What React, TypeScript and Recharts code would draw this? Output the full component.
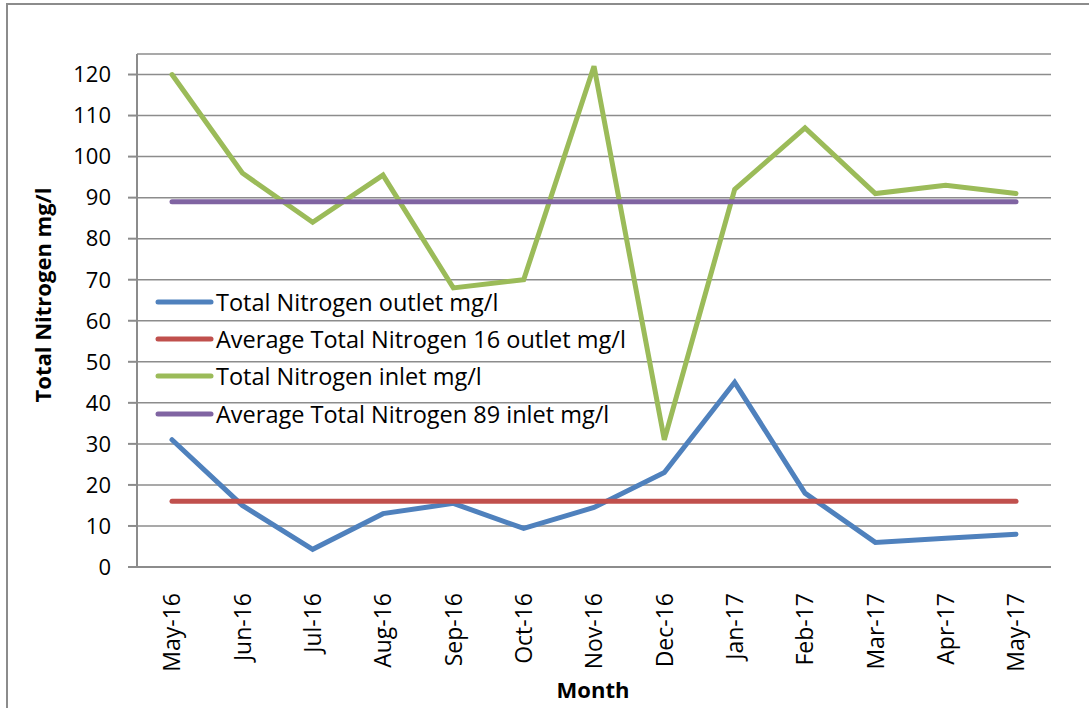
import React from "react";
import {
  LineChart,
  Line,
  XAxis,
  YAxis,
  CartesianGrid,
  Legend,
  Label,
} from "recharts";

// months along the category axis
const months = [
  "May-16", "Jun-16", "Jul-16", "Aug-16", "Sep-16", "Oct-16", "Nov-16",
  "Dec-16", "Jan-17", "Feb-17", "Mar-17", "Apr-17", "May-17",
];

// values
const outletValues = [31, 15, 4.3, 13, 15.5, 9.4, 14.5, 23, 45, 18, 6, 7, 8];
const inletValues = [120, 96, 84, 95.5, 68, 70, 122, 31, 92, 107, 91, 93, 91];
const avgOutlet = 16;
const avgInlet = 89;

const yTicks = [0, 10, 20, 30, 40, 50, 60, 70, 80, 90, 100, 110, 120];

const seriesNames = [
  "Total Nitrogen outlet mg/l",
  "Average Total Nitrogen 16 outlet mg/l",
  "Total Nitrogen inlet mg/l",
  "Average Total Nitrogen 89 inlet mg/l",
];

const chartData = months.map((month, i) => ({
  month,
  outlet: outletValues[i],
  avgOutlet,
  inlet: inletValues[i],
  avgInlet,
}));

const FONT = "'Open Sans', sans-serif";
const GRID = "#8c8c8c";

const MonthTick = (props: any) => {
  const { x, y, payload } = props;
  return (
    <text
      x={0}
      y={0}
      transform={`translate(${x},${y + 18}) rotate(-90)`}
      textAnchor="end"
      dy="0.36em"
      fontFamily={FONT}
      fontSize={23}
      fill="#000"
    >
      {payload.value}
    </text>
  );
};

const LegendBox = (props: any) => {
  const items = [...(props.payload || [])].sort(
    (a: any, b: any) => seriesNames.indexOf(a.value) - seriesNames.indexOf(b.value)
  );
  return (
    <div>
      {items.map((entry: any) => (
        <div
          key={entry.value}
          style={{ display: "flex", alignItems: "center", height: 37.3 }}
        >
          <svg width={61} height={10}>
            <line
              x1={3}
              y1={5}
              x2={56}
              y2={5}
              stroke={entry.color}
              strokeWidth={5}
              strokeLinecap="round"
            />
          </svg>
          <span
            style={{
              fontFamily: FONT,
              fontSize: 23.5,
              color: "#000",
              whiteSpace: "nowrap",
            }}
          >
            {entry.value}
          </span>
        </div>
      ))}
    </div>
  );
};

const App: React.FC = () => {
  return (
    <div
      style={{
        position: "absolute",
        left: 0,
        top: 0,
        width: 1089,
        height: 708,
        overflow: "hidden",
        background: "#fff",
      }}
    >
      <div
        style={{
          position: "absolute",
          left: 6,
          top: 3,
          width: 1200,
          height: 800,
          border: "2px solid #8c8c8c",
        }}
      />
      <div style={{ position: "absolute", left: 0, top: 0 }}>
        <LineChart
          width={1089}
          height={708}
          data={chartData}
          margin={{ top: 54, right: 38, left: 77, bottom: 41 }}
        >
          <CartesianGrid
            horizontal={true}
            vertical={false}
            stroke={GRID}
            strokeWidth={1.5}
          />
          <XAxis
            dataKey="month"
            height={100}
            padding={{ left: 35, right: 35 }}
            interval={0}
            tickLine={false}
            axisLine={{ stroke: GRID, strokeWidth: 2 }}
            tick={<MonthTick />}
          >
            <Label
              content={() => (
                <text
                  x={593}
                  y={698}
                  textAnchor="middle"
                  fontFamily={FONT}
                  fontWeight="bold"
                  fontSize={22}
                  fill="#000"
                >
                  Month
                </text>
              )}
            />
          </XAxis>
          <YAxis
            width={60}
            domain={[0, 125]}
            ticks={yTicks}
            interval={0}
            tickSize={9}
            tickMargin={17}
            tickLine={{ stroke: GRID, strokeWidth: 2 }}
            axisLine={{ stroke: GRID, strokeWidth: 2 }}
            tick={{ fontFamily: FONT, fontSize: 22, fill: "#000" }}
          >
            <Label
              content={() => (
                <text
                  x={0}
                  y={0}
                  transform="translate(43,295) rotate(-90)"
                  textAnchor="middle"
                  dy="0.36em"
                  fontFamily={FONT}
                  fontWeight="bold"
                  fontSize={22}
                  fill="#000"
                >
                  Total Nitrogen mg/l
                </text>
              )}
            />
          </YAxis>
          <Legend
            layout="vertical"
            align="center"
            verticalAlign="middle"
            content={<LegendBox />}
            wrapperStyle={{ left: 155, top: 283, width: "auto" }}
          />
          <Line
            type="linear"
            dataKey="outlet"
            name={seriesNames[0]}
            stroke="#4F81BD"
            strokeWidth={5}
            strokeLinecap="round"
            dot={false}
            isAnimationActive={false}
          />
          <Line
            type="linear"
            dataKey="avgOutlet"
            name={seriesNames[1]}
            stroke="#C0504D"
            strokeWidth={5}
            strokeLinecap="round"
            dot={false}
            isAnimationActive={false}
          />
          <Line
            type="linear"
            dataKey="inlet"
            name={seriesNames[2]}
            stroke="#9BBB59"
            strokeWidth={5}
            strokeLinecap="round"
            dot={false}
            isAnimationActive={false}
          />
          <Line
            type="linear"
            dataKey="avgInlet"
            name={seriesNames[3]}
            stroke="#8064A2"
            strokeWidth={5}
            strokeLinecap="round"
            dot={false}
            isAnimationActive={false}
          />
        </LineChart>
      </div>
    </div>
  );
};

export default App;
